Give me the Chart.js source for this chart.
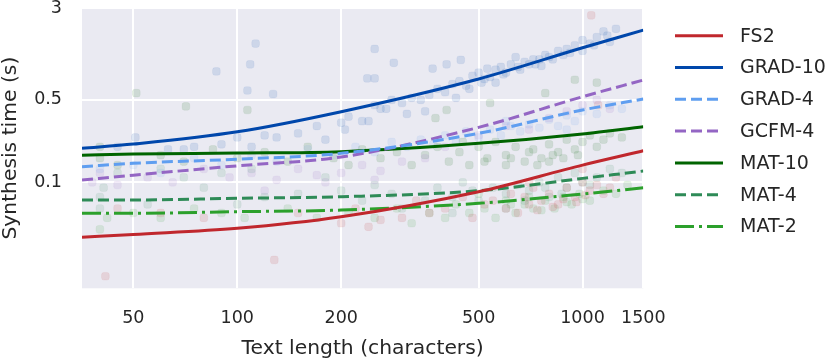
<!DOCTYPE html>
<html><head><meta charset="utf-8">
<script src="https://cdn.jsdelivr.net/npm/chart.js@4"></script>
<style>html,body{margin:0;padding:0;background:#fff;}</style>
</head><body>
<canvas id="c" width="830" height="363"></canvas>
<script>
// ---- data ----
const xTicks = [50, 100, 200, 500, 1000, 1500];
const yTicks = [0.1, 0.5, 3];
const seriesNames = ['FS2', 'GRAD-10', 'GRAD-4', 'GCFM-4', 'MAT-10', 'MAT-4', 'MAT-2'];

// fitted curves, sampled at fitX
const fitX = [35.5, 50, 100, 200, 500, 1000, 1500];
const fitFS2    = [0.0342, 0.0362, 0.0408, 0.0511, 0.0832, 0.140, 0.185];
const fitGRAD10 = [0.194, 0.211, 0.268, 0.397, 0.751, 1.38, 1.95];
const fitGRAD4  = [0.1356, 0.145, 0.157, 0.176, 0.26, 0.41, 0.508];
const fitGCFM4  = [0.1046, 0.115, 0.138, 0.164, 0.292, 0.531, 0.736];
const fitMAT10  = [0.170, 0.174, 0.177, 0.182, 0.214, 0.257, 0.296];
const fitMAT4   = [0.0708, 0.0708, 0.0732, 0.0755, 0.0849, 0.108, 0.1246];
const fitMAT2   = [0.0546, 0.0546, 0.0564, 0.0582, 0.0664, 0.0796, 0.090];

// measured samples [text length, seconds]
const ptsFS2 = [[41.5,0.016],[128,0.022],[1060,2.6],[1110,0.45],[45,0.06],[60,0.055],[80,0.05],[150,0.055],[200,0.045],[220,0.06],[240,0.042],[260,0.048],[300,0.05],[330,0.07],[360,0.055],[400,0.06],[450,0.075],[480,0.05],[520,0.065],[550,0.07],[600,0.06],[620,0.08],[650,0.055],[680,0.075],[700,0.065],[720,0.09],[760,0.07],[800,0.08],[850,0.065],[900,0.09],[950,0.075],[1000,0.1],[1050,0.085],[1100,0.095],[1200,0.09],[1250,0.11],[1000,0.13],[700,0.1],[740,0.058],[820,0.062],[880,0.072],[960,0.068],[1020,0.078],[1150,0.08]];
const ptsGRAD10 = [[50.7,0.24],[63,0.19],[87,0.87],[109,1.0],[113,1.5],[107,0.6],[127,0.56],[250,1.35],[284,1.03],[238,0.76],[250,0.76],[368,0.92],[444,1.09],[404,1.0],[150,0.26],[170,0.3],[180,0.23],[200,0.32],[210,0.36],[230,0.33],[250,0.45],[260,0.42],[280,0.5],[300,0.47],[320,0.52],[340,0.5],[360,0.55],[380,0.62],[400,0.58],[420,0.68],[440,0.72],[460,0.66],[480,0.8],[500,0.85],[520,0.75],[540,0.78],[560,0.9],[580,0.95],[600,0.85],[620,1.0],[650,0.95],[680,1.05],[700,1.0],[720,1.1],[750,1.1],[780,1.2],[800,1.15],[850,1.3],[900,1.35],[950,1.45],[1000,1.6],[1050,1.5],[1100,1.7],[1150,1.9],[1200,1.55],[1250,2.0],[1000,1.3],[880,1.2],[760,0.97],[640,1.15],[560,0.7],[430,0.52],[350,0.4],[310,0.38],[270,0.42],[240,0.33],[205,0.28],[120,0.25],[110,0.2],[90,0.21],[75,0.2],[70,0.19],[45,0.2],[100,0.24],[130,0.24],[510,0.7],[590,0.82],[660,0.9],[730,1.0],[820,1.1],[920,1.25],[1080,1.45],[1180,1.75],[470,0.62],[530,0.92]];
const ptsGRAD4 = [[40,0.13],[50,0.14],[60,0.12],[75,0.16],[90,0.14],[110,0.17],[130,0.15],[160,0.19],[190,0.17],[220,0.2],[250,0.18],[280,0.22],[310,0.2],[340,0.23],[370,0.21],[400,0.25],[430,0.22],[460,0.27],[500,0.24],[540,0.28],[580,0.25],[620,0.3],[660,0.27],[700,0.31],[750,0.29],[800,0.34],[850,0.3],[900,0.37],[950,0.33],[1000,0.4],[1100,0.38],[1200,0.45],[1300,0.42],[600,0.33],[900,0.28]];
const ptsGCFM4 = [[38,0.1],[40,0.12],[45,0.095],[55,0.11],[65,0.1],[80,0.13],[95,0.11],[110,0.12],[130,0.105],[150,0.13],[170,0.115],[200,0.12],[230,0.14],[260,0.125],[300,0.15],[350,0.16],[400,0.2],[500,0.25],[600,0.3],[700,0.28],[800,0.35],[900,0.4],[1000,0.45],[1100,0.5],[1200,0.42],[120,0.085],[180,0.1],[250,0.105]];
const ptsMAT10 = [[40,0.16],[40,0.2],[51,0.57],[71,0.44],[107,0.41],[404,0.41],[375,0.35],[950,0.74],[1100,0.7],[540,0.47],[780,0.57],[45,0.14],[60,0.17],[70,0.15],[85,0.19],[100,0.16],[120,0.18],[140,0.15],[160,0.2],[190,0.16],[210,0.14],[230,0.19],[260,0.16],[290,0.18],[320,0.14],[350,0.17],[380,0.2],[410,0.15],[440,0.18],[470,0.14],[500,0.2],[530,0.16],[560,0.22],[600,0.17],[640,0.2],[680,0.15],[720,0.19],[760,0.16],[800,0.21],[850,0.18],[900,0.23],[950,0.19],[1000,0.22],[1050,0.25],[1100,0.2],[1200,0.26],[1300,0.24],[600,0.14],[800,0.15],[450,0.22],[620,0.16],[700,0.18],[740,0.14],[820,0.17],[880,0.16],[970,0.17],[1150,0.23],[520,0.15]];
const ptsMAT4 = [[40,0.075],[40,0.06],[41,0.09],[45,0.12],[55,0.065],[60,0.13],[70,0.11],[80,0.09],[90,0.12],[100,0.065],[110,0.13],[120,0.075],[150,0.08],[180,0.11],[200,0.085],[230,0.07],[250,0.095],[280,0.08],[300,0.06],[350,0.07],[380,0.09],[420,0.075],[450,0.1],[480,0.085],[500,0.07],[550,0.09],[600,0.08],[650,0.095],[700,0.085],[750,0.1],[800,0.075],[850,0.11],[900,0.09],[950,0.12],[1000,0.1],[1100,0.11],[1200,0.13],[1300,0.12],[420,0.055],[600,0.06],[680,0.07],[780,0.09],[870,0.08],[1050,0.095]];
const ptsMAT2 = [[40,0.04],[42,0.05],[50,0.055],[60,0.05],[75,0.06],[90,0.055],[105,0.05],[140,0.06],[170,0.05],[210,0.055],[250,0.05],[290,0.06],[320,0.045],[360,0.055],[400,0.05],[430,0.065],[470,0.055],[520,0.06],[560,0.05],[600,0.07],[640,0.055],[680,0.065],[720,0.06],[780,0.07],[830,0.06],[880,0.075],[930,0.065],[980,0.08],[1050,0.07],[1150,0.085],[1250,0.08],[1350,0.095],[500,0.08],[700,0.075],[620,0.065],[760,0.058],[900,0.068],[1000,0.072]];

// ---- styling ----
const colors = {
  'FS2': '#c0272d', 'GRAD-10': '#0047ab', 'GRAD-4': '#5f9ef0', 'GCFM-4': '#9466c4',
  'MAT-10': '#006400', 'MAT-4': '#2e8b57', 'MAT-2': '#2ca02c'
};
const dashes = {
  'FS2': [], 'GRAD-10': [], 'GRAD-4': [11, 5], 'GCFM-4': [11, 5],
  'MAT-10': [], 'MAT-4': [11, 5], 'MAT-2': [19, 5, 3, 5]
};
const fits = {'FS2': fitFS2, 'GRAD-10': fitGRAD10, 'GRAD-4': fitGRAD4, 'GCFM-4': fitGCFM4, 'MAT-10': fitMAT10, 'MAT-4': fitMAT4, 'MAT-2': fitMAT2};
const pts = {'FS2': ptsFS2, 'GRAD-10': ptsGRAD10, 'GRAD-4': ptsGRAD4, 'GCFM-4': ptsGCFM4, 'MAT-10': ptsMAT10, 'MAT-4': ptsMAT4, 'MAT-2': ptsMAT2};

function alpha(hex, a) {
  const n = parseInt(hex.slice(1), 16);
  return `rgba(${(n >> 16) & 255},${(n >> 8) & 255},${n & 255},${a})`;
}

const FONT = '"DejaVu Sans", sans-serif';
const TXT = '#262626';

const datasets = [];
seriesNames.forEach(name => {
  datasets.push({
    type: 'line', label: name, order: 0,
    data: fitX.map((x, i) => ({x, y: fits[name][i]})),
    borderColor: colors[name], borderWidth: 3, borderDash: dashes[name],
    pointRadius: 0, fill: false, cubicInterpolationMode: 'monotone'
  });
});
seriesNames.forEach(name => {
  datasets.push({
    type: 'scatter', label: name + ' samples', order: 1,
    data: pts[name].map(p => ({x: p[0], y: p[1]})),
    pointStyle: 'rectRounded', pointRadius: 4.5,
    backgroundColor: alpha(colors[name], 0.12), borderColor: alpha(colors[name], 0.05), borderWidth: 1
  });
});

const bgPlugin = {
  id: 'bg',
  beforeDraw(chart) {
    const {ctx, chartArea: a} = chart;
    ctx.save();
    ctx.fillStyle = '#ffffff';
    ctx.fillRect(0, 0, chart.width, chart.height);
    ctx.fillStyle = '#eaeaf2';
    ctx.fillRect(a.left, a.top, a.right - a.left, a.bottom - a.top);
    ctx.restore();
  }
};

const legendPlugin = {
  id: 'customLegend',
  afterDraw(chart) {
    const ctx = chart.ctx;
    ctx.save();
    ctx.font = '19px ' + FONT;
    ctx.textBaseline = 'middle';
    ctx.fillStyle = TXT;
    seriesNames.forEach((name, i) => {
      const y = 35.7 + i * 31.8;
      ctx.strokeStyle = colors[name];
      ctx.lineWidth = 3;
      ctx.setLineDash(dashes[name]);
      ctx.beginPath();
      ctx.moveTo(675, y);
      ctx.lineTo(723, y);
      ctx.stroke();
      ctx.setLineDash([]);
      ctx.fillText(name, 740, y + 1);
    });
    ctx.restore();
  }
};

new Chart(document.getElementById('c'), {
  data: {datasets},
  plugins: [bgPlugin, legendPlugin],
  options: {
    responsive: false, animation: false, devicePixelRatio: 1,
    layout: {padding: {top: 8, right: 186.7, left: 0, bottom: 0}},
    plugins: {legend: {display: false}, tooltip: {enabled: false}},
    scales: {
      x: {
        type: 'logarithmic', min: 35.5, max: 1500,
        afterBuildTicks: s => { s.ticks = xTicks.map(v => ({value: v})); },
        afterFit: s => { s.height = 74.7; s.paddingLeft = 0; s.paddingRight = 0; },
        ticks: {callback: v => String(v), color: TXT, font: {family: FONT, size: 17.5}, padding: 20, maxRotation: 0, autoSkip: false},
        grid: {color: '#ffffff', lineWidth: 2, drawTicks: false},
        border: {display: false},
        title: {display: true, text: 'Text length (characters)', color: TXT, font: {family: FONT, size: 20.3, lineHeight: 1.1}, padding: {top: 0, bottom: 3}}
      },
      y: {
        type: 'logarithmic', min: 0.01265, max: 3,
        afterBuildTicks: s => { s.ticks = yTicks.map(v => ({value: v})); },
        afterFit: s => { s.width = 82; s.paddingTop = 0; s.paddingBottom = 0; },
        ticks: {callback: v => String(v), color: TXT, font: {family: FONT, size: 17.5}, padding: 20, autoSkip: false},
        grid: {color: '#ffffff', lineWidth: 2, drawTicks: false},
        border: {display: false},
        title: {display: true, text: 'Synthesis time (s)', color: TXT, font: {family: FONT, size: 20.3, lineHeight: 1.1}, padding: {top: 0, bottom: 0}}
      }
    }
  }
});
</script>
</body></html>
